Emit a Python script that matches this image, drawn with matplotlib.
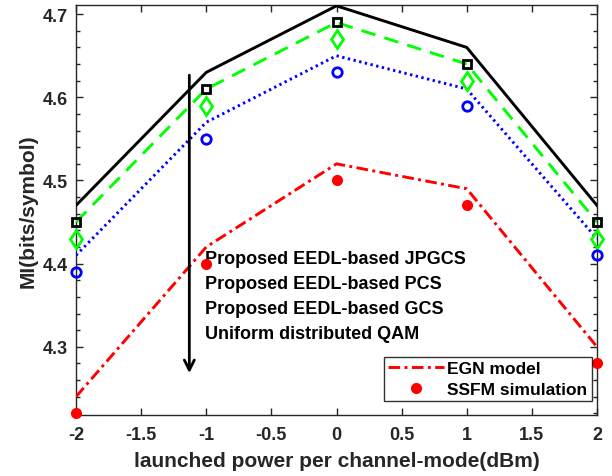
import matplotlib
matplotlib.use("Agg")
import matplotlib.pyplot as plt
from matplotlib.ticker import MultipleLocator

plt.rcParams['font.family'] = ['Liberation Sans', 'DejaVu Sans']
plt.rcParams['font.weight'] = 'bold'

power = [-2, -1, 0, 1, 2]
jpgcs_line = [4.47, 4.63, 4.71, 4.66, 4.47]
jpgcs_sim = [4.45, 4.61, 4.69, 4.64, 4.45]
pcs_line = [4.45, 4.61, 4.69, 4.64, 4.45]
pcs_sim = [4.43, 4.59, 4.67, 4.62, 4.43]
gcs_line = [4.41, 4.57, 4.65, 4.61, 4.43]
gcs_sim = [4.39, 4.55, 4.63, 4.59, 4.41]
qam_line = [4.24, 4.42, 4.52, 4.49, 4.30]
qam_sim = [4.22, 4.40, 4.50, 4.47, 4.28]

scheme_labels = ["Proposed EEDL-based JPGCS", "Proposed EEDL-based PCS",
                 "Proposed EEDL-based GCS", "Uniform distributed QAM"]
legend_labels = ["EGN model", "SSFM simulation"]
xticks = [-2, -1.5, -1, -0.5, 0, 0.5, 1, 1.5, 2]
yticks = [4.3, 4.4, 4.5, 4.6, 4.7]

fig = plt.figure(figsize=(6.12, 4.77), dpi=100)
ax = fig.add_axes([0.1242, 0.1279, 0.8513, 0.8595])

ax.plot(power, jpgcs_line, color='black', lw=2.1, zorder=3)
ax.plot(power, pcs_line, color=(0, 1, 0), lw=2.1, ls=(0, (5, 3.2)), zorder=3)
ax.plot(power, gcs_line, color=(0, 0, 1), lw=2.1, ls=(0, (0.8, 1.2)), zorder=3)
egn, = ax.plot(power, qam_line, color=(1, 0, 0), lw=2.1, ls=(0, (4, 1.5, 1, 1.5)), zorder=3)

ax.plot(power, jpgcs_sim, ls='none', marker='s', ms=5.5, mfc='none', mec='black', mew=2, zorder=4, clip_on=False)
ax.plot(power, pcs_sim, ls='none', marker='d', ms=9.5, mfc='none', mec=(0, 1, 0), mew=2, zorder=4, clip_on=False)
ax.plot(power, gcs_sim, ls='none', marker='o', ms=6.8, mfc='none', mec=(0, 0, 1), mew=2, zorder=4, clip_on=False)
ssfm, = ax.plot(power, qam_sim, ls='none', marker='o', ms=7, mfc=(1, 0, 0), mec=(1, 0, 0), zorder=4, clip_on=False)

ax.annotate('', xy=(-1.13, 4.265), xytext=(-1.13, 4.63),
            arrowprops=dict(arrowstyle='->', color='black', lw=2, mutation_scale=18))

for i, lab in enumerate(scheme_labels):
    ax.text(-1.01, 4.406 - 0.03 * i, lab, fontsize=13, fontweight='bold',
            ha='left', va='center', color='black')

leg = ax.legend([egn, ssfm], legend_labels, loc='lower right',
                bbox_to_anchor=(0.990, 0.034), borderaxespad=0, fontsize=12.5,
                frameon=True, fancybox=False, edgecolor='black', handlelength=3.2,
                borderpad=0.25, labelspacing=0.3, handletextpad=0.2)
leg.get_frame().set_linewidth(1.0)
for t in leg.get_texts():
    t.set_fontweight('bold')

ax.set_xlim(-2, 2)
ax.set_ylim(4.218, 4.711)
ax.set_xticks(xticks)
ax.set_xticklabels([f"{v:g}" for v in xticks])
ax.set_yticks(yticks)
ax.set_yticklabels([f"{v:.1f}" for v in yticks])
ax.yaxis.set_minor_locator(MultipleLocator(0.02))
ax.tick_params(which='both', direction='in', top=True, right=True,
               colors='#262626', labelsize=13, width=1)
ax.tick_params(which='major', length=5)
ax.tick_params(which='minor', length=3)
ax.tick_params(axis='x', pad=8)
ax.tick_params(axis='y', pad=5.5)
for lbl in ax.get_xticklabels() + ax.get_yticklabels():
    lbl.set_fontweight('bold')
for s in ax.spines.values():
    s.set_color('#262626')
    s.set_linewidth(1)

ax.set_xlabel('launched power per channel-mode(dBm)', fontsize=15, fontweight='bold',
              color='#262626', labelpad=6)
ax.set_ylabel('MI(bits/symbol)', fontsize=15, fontweight='bold', color='#262626', labelpad=4)

fig.savefig('out.png', dpi=100)
